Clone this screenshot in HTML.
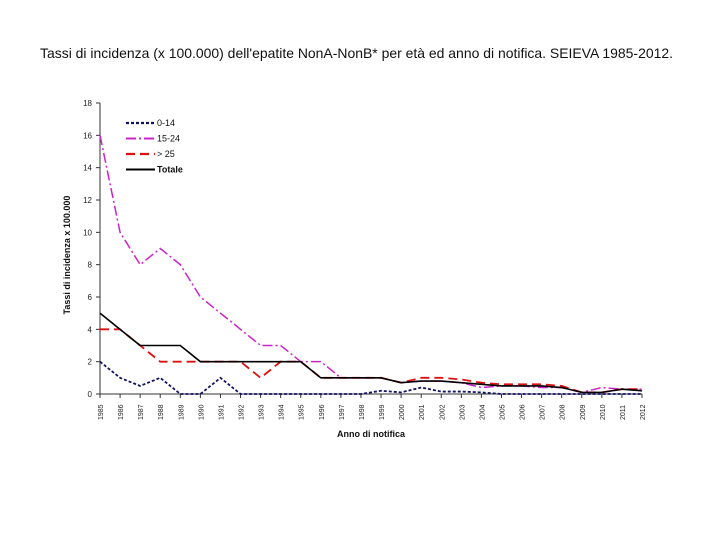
<!DOCTYPE html>
<html><head><meta charset="utf-8"><style>
body{margin:0;background:#fff;width:720px;height:540px;overflow:hidden;font-family:"Liberation Sans",sans-serif}
</style></head><body>
<svg id="c" width="720" height="540">
<text x="40" y="58" textLength="633" lengthAdjust="spacingAndGlyphs" font-size="14" fill="#111">Tassi di incidenza (x 100.000) dell'epatite NonA-NonB* per età ed anno di notifica. SEIEVA 1985-2012.</text>
<text transform="translate(70,255) rotate(-90)" text-anchor="middle" font-size="9" font-weight="bold" fill="#111">Tassi di incidenza x 100.000</text>
<text x="371" y="437" text-anchor="middle" font-size="9" font-weight="bold" fill="#111">Anno di notifica</text>
<g id="g"></g>
</svg>
<script>
const years=[1985,1986,1987,1988,1989,1990,1991,1992,1993,1994,1995,1996,1997,1998,1999,2000,2001,2002,2003,2004,2005,2006,2007,2008,2009,2010,2011,2012];
const yTicks=[0,2,4,6,8,10,12,14,16,18];
const s014=[2,1,0.5,1,0,0,1,0,0,0,0,0,0,0,0.2,0.1,0.4,0.15,0.15,0.1,0,0,0,0,0,0,0,0];
const s1524=[16,10,8,9,8,6,5,4,3,3,2,2,1,1,1,0.7,0.8,0.8,0.7,0.4,0.5,0.5,0.4,0.4,0.1,0.4,0.3,0.3];
const s25=[4,4,3,2,2,2,2,2,1,2,2,1,1,1,1,0.7,1.0,1.0,0.9,0.7,0.6,0.6,0.6,0.5,0.1,0.1,0.3,0.3];
const sTot=[5,4,3,3,3,2,2,2,2,2,2,1,1,1,1,0.7,0.8,0.8,0.7,0.6,0.5,0.5,0.5,0.4,0.1,0.1,0.3,0.2];
const X0=100,X1=642,Y0=394,Y1=103;
const xs=i=>X0+(X1-X0)*i/(years.length-1);
const ys=v=>Y0-(Y0-Y1)*v/18;
const g=document.getElementById('g');
const NS='http://www.w3.org/2000/svg';
function mk(t,a){const e=document.createElementNS(NS,t);for(const k in a)e.setAttribute(k,a[k]);g.appendChild(e);return e;}
let ax=mk('path',{d:`M${X0},${Y1}V${Y0}H${X1}`,stroke:'#333',fill:'none','stroke-width':1});


yTicks.forEach(v=>{
 const t=mk('line',{x1:X0-4,x2:X0,y1:ys(v),y2:ys(v),stroke:'#333'});
 
 
 const l=mk('text',{x:X0-8,y:ys(v)+3,'text-anchor':'end','font-size':8,fill:'#222'});
 l.textContent=v;
 
 
});
years.forEach((y,i)=>{
 const t=mk('line',{x1:xs(i),x2:xs(i),y1:Y0,y2:Y0+4,stroke:'#333'});
 
 
 const l=mk('text',{transform:`translate(${xs(i)+3},${Y0+26}) rotate(-90)`,'font-size':7,fill:'#222'});
 l.textContent=y;
 
 
});
const series=[
 {d:s1524,c:'#cc22cc',da:'10,3,2,3',w:1.5,n:'15-24'},
 {d:s25,c:'#dd1111',da:'9,5',w:1.8,n:'> 25'},
 {d:s014,c:'#111166',da:'3,2',w:1.8,n:'0-14'},
 {d:sTot,c:'#000',da:'',w:1.6,n:'Totale'}];
series.forEach(s=>{
 const p=mk('polyline',{points:s.d.map((v,i)=>xs(i)+','+ys(v)).join(' '),fill:'none',stroke:s.c,'stroke-width':s.w,'stroke-dasharray':s.da});
 
 
});
const leg=[series[2],series[0],series[1],series[3]];
leg.forEach((s,i)=>{
 const y=123+i*15.5;
 const l=mk('line',{x1:126,x2:155,y1:y,y2:y,stroke:s.c,'stroke-width':s.w+0.4,'stroke-dasharray':s.da});
 
 
 const t=mk('text',{x:157,y:y+3,'font-size':9,fill:'#111','font-weight':s.n==='Totale'?'bold':'normal'});
 t.textContent=s.n;
 
 
});
</script>
</body></html>
